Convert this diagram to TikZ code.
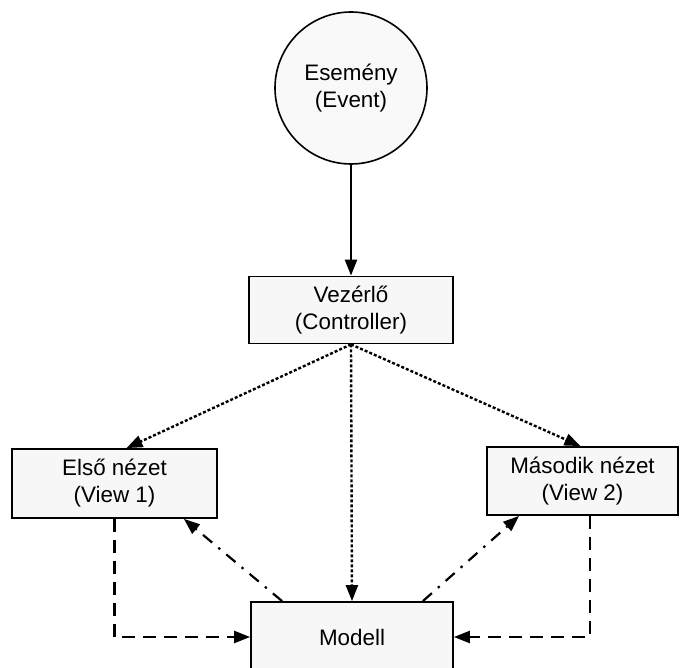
\documentclass[tikz,border=0pt]{standalone}
\usepackage{fontspec}
\setmainfont{Liberation Sans}
\usetikzlibrary{arrows.meta}

\tikzset{
  mvcbox/.style={draw, line width=.9pt, fill=gray!6, align=center, inner sep=2pt},
  tip/.style={-{Triangle[length=8pt,width=6pt]}},
  ctrlline/.style={tip, line width=1.2pt, dash pattern=on 1.5pt off 1pt},
  viewline/.style={tip, line width=1.1pt, dash pattern=on 6.5pt off 4pt},
  modelline/.style={tip, line width=1.1pt, dash pattern=on 6pt off 4pt on 1.2pt off 4pt}
}

\begin{document}
\begin{tikzpicture}[x=.5pt,y=-.5pt,font=\fontsize{11.2}{13.5}\selectfont]
\clip (0,0) rectangle (680,668);

\node (evt) at (351,88) [draw, circle, line width=.8pt, fill=gray!5, minimum size=76pt, align=center] {Esemény\\(Event)};
\node (ctrl) at (351,310) [mvcbox, minimum width=102pt, minimum height=33.5pt] {Vezérlő\\(Controller)};
\node (view1) at (114.5,483.5) [mvcbox, minimum width=102.5pt, minimum height=34.5pt] {Első nézet\\(View 1)};
\node (view2) at (582.5,481) [mvcbox, minimum width=95.5pt, minimum height=34pt] {Második nézet\\(View 2)};
\node (model) at (352,637) [mvcbox, minimum width=101pt, minimum height=35pt] {Modell};

\draw[tip, line width=1.2pt]
(evt) to (ctrl);

\draw[ctrlline] (ctrl.south) to ([xshift=6pt]view1.north);
\draw[ctrlline] (ctrl.south) to ([xshift=-1pt]view2.north);
\draw[ctrlline] (ctrl.south) to (model.north);

\draw[modelline] ([xshift=16pt]model.north west) to ([xshift=-17pt]view1.south east);
\draw[modelline] ([xshift=-15.5pt]model.north east) to ([xshift=16.5pt]view2.south west);

\draw[viewline] (view1.south) |- (model.west);
\draw[viewline] ([xshift=3.75pt]view2.south) |- (model.east);
\end{tikzpicture}
\end{document}
